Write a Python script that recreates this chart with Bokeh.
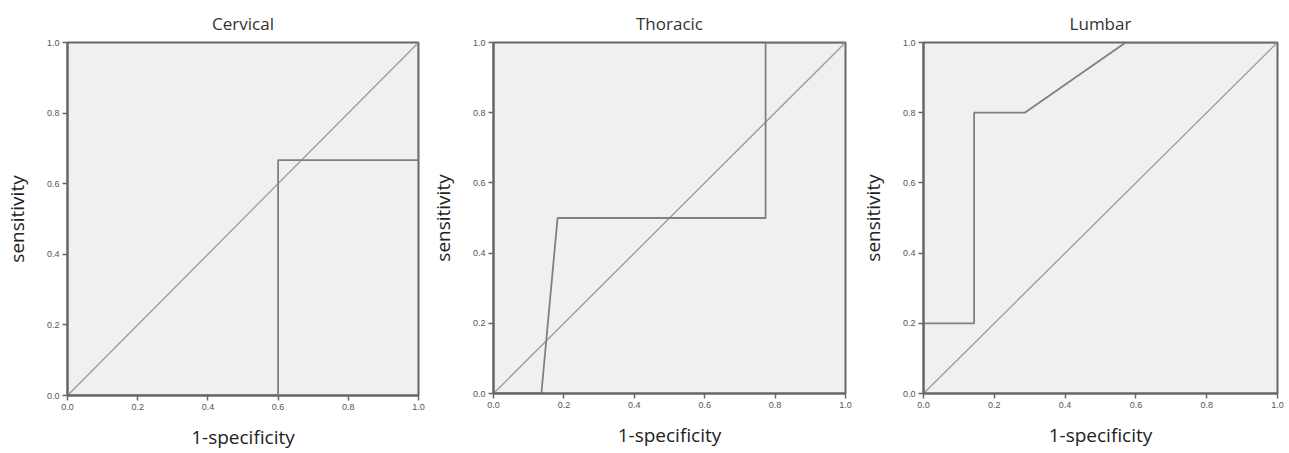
from bokeh.plotting import figure
from bokeh.layouts import row
from bokeh.models import Range1d, FixedTicker
from bokeh.embed import file_html
from bokeh.resources import INLINE

titles = ["Cervical", "Thoracic", "Lumbar"]

cerv_x = [0.0, 0.6, 0.6, 1.0, 1.0]
cerv_y = [0.0, 0.0, 0.667, 0.667, 1.0]

thor_x = [0.0, 0.136, 0.182, 0.773, 0.773, 1.0]
thor_y = [0.0, 0.0, 0.5, 0.5, 1.0, 1.0]

lumb_x = [0.0, 0.0, 0.143, 0.143, 0.286, 0.571, 1.0]
lumb_y = [0.0, 0.2, 0.2, 0.8, 0.8, 1.0, 1.0]

ref_x = [0.0, 1.0]
ref_y = [0.0, 1.0]

ticks = [0.0, 0.2, 0.4, 0.6, 0.8, 1.0]
tick_labels = {0.0: "0.0", 0.2: "0.2", 0.4: "0.4", 0.6: "0.6", 0.8: "0.8", 1.0: "1.0"}

series = [(cerv_x, cerv_y), (thor_x, thor_y), (lumb_x, lumb_y)]

# layout: (width, height, left border, right border, bottom border)
layout = [
    (426, 452, 67, 8, 56),
    (430, 450, 67, 11, 57),
    (429, 450, 67, 8, 57),
]

figs = []
for i, (title, (xs, ys)) in enumerate(zip(titles, series)):
    w, h, lb, rb, bb = layout[i]
    p = figure(width=w, height=h, output_backend="svg", toolbar_location=None,
               x_range=Range1d(0, 1), y_range=Range1d(0, 1),
               min_border_left=lb, min_border_right=rb, min_border_top=42,
               min_border_bottom=bb, title=title)
    p.title.align = "center"
    p.title.text_font = "Open Sans"
    p.title.text_font_size = "17px"
    p.title.text_font_style = "normal"
    p.title.text_color = "#333333"
    p.title.offset = 0
    p.title.standoff = 16
    p.background_fill_color = "#f0f0f0"
    p.border_fill_color = "white"
    p.outline_line_color = "#666666"
    p.outline_line_width = 2
    p.grid.visible = False

    p.line(ref_x, ref_y, line_color="#9a9a9a", line_width=1.3)
    p.line(xs, ys, line_color="#808080", line_width=1.8)

    for ax in (p.xaxis[0], p.yaxis[0]):
        ax.ticker = FixedTicker(ticks=ticks)
        ax.major_label_overrides = tick_labels
        ax.minor_tick_line_color = None
        ax.axis_line_color = "#666666"
        ax.axis_line_width = 2
        ax.major_tick_line_color = "#666666"
        ax.major_tick_line_width = 1.5
        ax.major_tick_in = 0
        ax.major_tick_out = 5
        ax.major_label_text_font = "Liberation Sans"
        ax.major_label_text_font_size = "9px"
        ax.major_label_text_color = "#555555"
        ax.major_label_standoff = 3
        ax.axis_label_text_font = "Open Sans"
        ax.axis_label_text_font_size = "19px"
        ax.axis_label_text_font_style = "normal"
        ax.axis_label_text_color = "#222222"
    p.xaxis[0].axis_label_standoff = 11
    p.yaxis[0].axis_label_standoff = 14
    p.xaxis.axis_label = "1-specificity"
    p.yaxis.axis_label = "sensitivity"
    figs.append(p)

layout_row = row(*figs, spacing=0)
open("out.html", "w").write(file_html(layout_row, INLINE))
